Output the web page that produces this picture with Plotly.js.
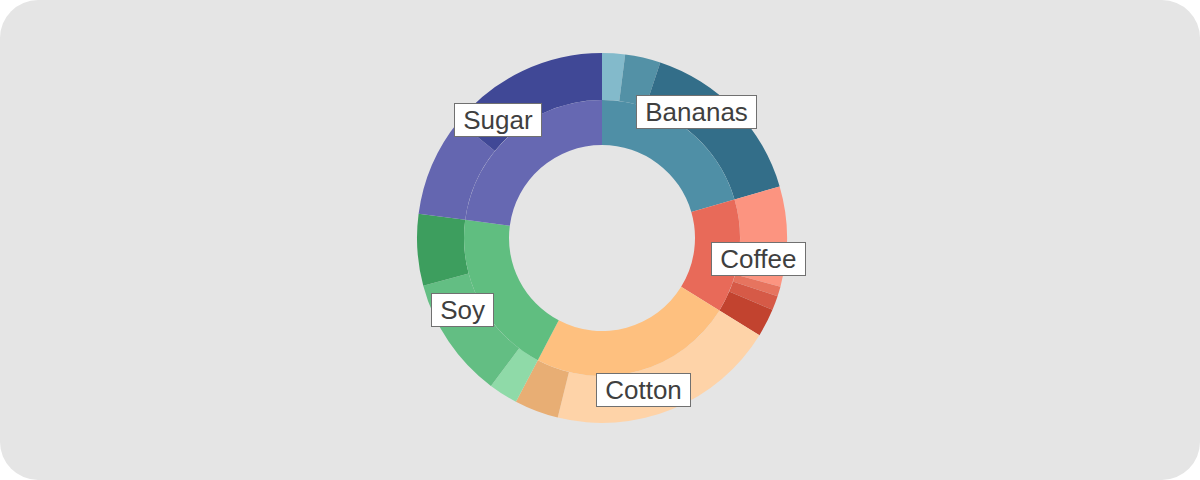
<!DOCTYPE html>
<html>
<head>
<meta charset="utf-8">
<script src="https://cdn.plot.ly/plotly-3.0.1.min.js"></script>
<style>
  html, body { margin: 0; padding: 0; background: #ffffff; }
  #wrap { width: 1200px; height: 480px; background: #e5e5e5; border-radius: 38px; overflow: hidden; }
  #chart { width: 1200px; height: 480px; }
</style>
</head>
<body>
<div id="wrap"><div id="chart"></div></div>
<script>
// Inner ring: commodity shares (%)
const categories = ['Bananas', 'Coffee', 'Cotton', 'Soy', 'Sugar'];
const categoryValues = [20.5, 13.3, 23.9, 19.4, 22.9];
const categoryColors = ['#4f8fa6', '#e86a59', '#fec07f', '#60be80', '#6668b2'];

// Outer ring: sub-shares of each commodity (%)
const bananasParts = [2.0, 3.1, 15.4];
const coffeeParts = [8.75, 0.85, 1.25, 2.45];
const cottonParts = [20.05, 3.85];
const soyParts = [2.55, 10.6, 6.25];
const sugarParts = [8.75, 14.15];

const bananasColors = ['#83bacb', '#5391a6', '#336e89'];
const coffeeColors = ['#fc9480', '#e6745f', '#d65a47', '#c2432f'];
const cottonColors = ['#fed3a8', '#e8ae74'];
const soyColors = ['#8fdaa8', '#63be83', '#3d9e5e'];
const sugarColors = ['#6466b0', '#404896'];

const partGroups = [bananasParts, coffeeParts, cottonParts, soyParts, sugarParts];
const colorGroups = [bananasColors, coffeeColors, cottonColors, soyColors, sugarColors];

const outerLabels = [], outerValues = [], outerColors = [];
partGroups.forEach((parts, i) => {
  parts.forEach((v, j) => {
    outerLabels.push(categories[i] + ' ' + (j + 1));
    outerValues.push(v);
    outerColors.push(colorGroups[i][j]);
  });
});

const W = 1200, H = 480;
const margin = {l: 82, r: 78, t: 53, b: 57};
const plotW = W - margin.l - margin.r;
const plotH = H - margin.t - margin.b;
const outerR = plotH / 2;          // 185 px
const innerR = 138;                // inner ring outer radius
const holeR = 93;
const labelR = 157.5;

const innerDomainX = [0.5 - innerR / plotW, 0.5 + innerR / plotW];
const innerDomainY = [0.5 - innerR / plotH, 0.5 + innerR / plotH];

const outer = {
  type: 'pie',
  labels: outerLabels,
  values: outerValues,
  sort: false,
  direction: 'clockwise',
  rotation: 0,
  hole: innerR / outerR,
  textinfo: 'none',
  hoverinfo: 'label+percent',
  marker: {colors: outerColors, line: {width: 0}},
  domain: {x: [0, 1], y: [0, 1]},
  showlegend: false
};

const inner = {
  type: 'pie',
  labels: categories,
  values: categoryValues,
  sort: false,
  direction: 'clockwise',
  rotation: 0,
  hole: holeR / innerR,
  textinfo: 'none',
  hoverinfo: 'label+percent',
  marker: {colors: categoryColors, line: {width: 0}},
  domain: {x: innerDomainX, y: innerDomainY},
  showlegend: false
};

// Label boxes at the middle angle of each inner slice
const total = categoryValues.reduce((a, b) => a + b, 0);
let cum = 0;
const annotations = categories.map((name, i) => {
  const mid = (cum + categoryValues[i] / 2) / total * 2 * Math.PI;
  cum += categoryValues[i];
  return {
    xref: 'paper', yref: 'paper',
    x: 0.5 + labelR * Math.sin(mid) / plotW,
    y: 0.5 + labelR * Math.cos(mid) / plotH,
    xanchor: 'center', yanchor: 'middle',
    text: '\u00A0' + name + '\u00A0',
    showarrow: false,
    font: {family: 'Liberation Sans, Arial, sans-serif', size: 26, color: '#3f3f3f'},
    bgcolor: '#ffffff',
    bordercolor: '#707070',
    borderwidth: 1,
    borderpad: 1
  };
});

const layout = {
  width: W, height: H,
  margin: margin,
  paper_bgcolor: 'rgba(0,0,0,0)',
  plot_bgcolor: 'rgba(0,0,0,0)',
  showlegend: false,
  annotations: annotations
};

Plotly.newPlot('chart', [outer, inner], layout, {displayModeBar: false, staticPlot: true});
</script>
</body>
</html>
